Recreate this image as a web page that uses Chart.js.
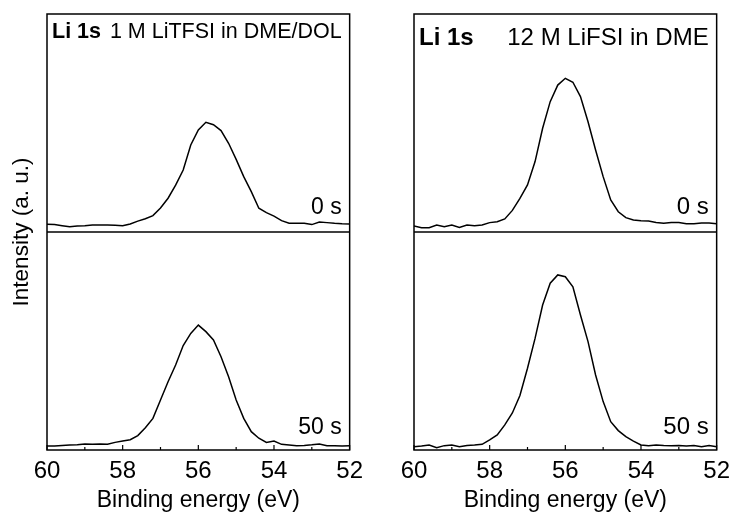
<!DOCTYPE html>
<html>
<head>
<meta charset="utf-8">
<script src="https://cdn.jsdelivr.net/npm/chart.js@4.4.0/dist/chart.umd.min.js"></script>
<style>
  html, body { margin: 0; padding: 0; background: #fff; }
  #wrap { position: relative; width: 737px; height: 517px; }
  #left { position: absolute; left: 0; top: 0; }
  #right { position: absolute; left: 370px; top: 0; }
</style>
</head>
<body>
<div id="wrap">
  <canvas id="left" width="370" height="517"></canvas>
  <canvas id="right" width="367" height="517"></canvas>
</div>
<script>
// binding energy (eV), read every 0.2 eV
var energies = [60.0, 59.8, 59.6, 59.4, 59.2, 59.0, 58.8, 58.6, 58.4, 58.2,
  58.0, 57.8, 57.6, 57.4, 57.2, 57.0, 56.8, 56.6, 56.4, 56.2,
  56.0, 55.8, 55.6, 55.4, 55.2, 55.0, 54.8, 54.6, 54.4, 54.2,
  54.0, 53.8, 53.6, 53.4, 53.2, 53.0, 52.8, 52.6, 52.4, 52.2, 52.0];

// 1 M LiTFSI in DME/DOL
var dol0s = [3.5, 3.4, 2.9, 2.4, 2.8, 2.9, 3.2, 3.2, 3.2, 3.1,
  2.9, 3.7, 5.0, 6.1, 7.5, 11.0, 15.5, 21.5, 28.4, 39.9,
  46.8, 50.3, 49.2, 46.5, 40.7, 33.3, 25.4, 18.5, 10.9, 8.9,
  7.3, 5.2, 4.0, 4.0, 4.0, 3.4, 4.6, 4.3, 4.0, 3.8, 3.7];
var dol50s = [1.8, 1.8, 2.1, 2.3, 2.4, 2.8, 2.6, 2.8, 2.6, 3.5,
  4.1, 4.7, 6.6, 10.2, 14.5, 22.9, 31.3, 39.0, 47.9, 53.5,
  57.3, 54.3, 50.5, 42.8, 33.6, 22.9, 14.5, 8.4, 5.4, 3.5,
  4.1, 2.6, 2.3, 2.0, 2.1, 2.4, 2.8, 2.0, 2.0, 1.8, 2.0];

// 12 M LiFSI in DME
var dme0s = [2.8, 2.0, 2.0, 3.2, 2.4, 3.2, 2.1, 3.2, 2.9, 3.2,
  4.3, 4.7, 6.0, 9.9, 15.4, 21.6, 32.3, 47.6, 59.8, 67.4,
  70.5, 68.7, 62.1, 50.6, 37.6, 25.4, 14.7, 9.3, 6.6, 5.5,
  5.2, 5.0, 4.4, 4.0, 4.4, 4.4, 3.8, 3.8, 4.1, 4.1, 3.8];
var dme50s = [1.5, 1.8, 2.3, 1.1, 2.0, 2.3, 1.5, 2.1, 2.3, 2.6,
  4.6, 6.9, 11.5, 17.0, 25.0, 37.5, 51.2, 66.5, 76.5, 80.3,
  79.5, 74.9, 61.9, 49.7, 34.4, 22.2, 13.0, 8.9, 6.1, 4.1,
  2.3, 2.0, 2.3, 2.1, 2.0, 2.1, 1.8, 2.1, 1.5, 2.1, 1.5];

var SPLIT = 100; // top spectrum sits on the upper half of the y range
var FONT = '"Liberation Sans", Arial, sans-serif';

Chart.defaults.font.family = FONT;
Chart.defaults.color = '#000';

function toPoints(vals, shift) {
  return energies.map(function (e, i) { return { x: e, y: vals[i] + shift }; });
}

// frame, split line, inward ticks and the labels inside the box
var framePlugin = {
  id: 'frame',
  afterDatasetsDraw: function (chart, args, opts) {
    var ctx = chart.ctx, a = chart.chartArea;
    var xs = chart.scales.x, ys = chart.scales.y;
    var mid = ys.getPixelForValue(SPLIT);
    ctx.save();
    ctx.strokeStyle = '#000';
    ctx.lineWidth = 1.5;
    ctx.strokeRect(a.left, a.top, a.right - a.left, a.bottom - a.top);
    ctx.beginPath();
    ctx.moveTo(a.left, mid);
    ctx.lineTo(a.right, mid);
    ctx.stroke();
    ctx.lineWidth = 1.2;
    xs.ticks.forEach(function (t) {
      var px = xs.getPixelForValue(t.value);
      var len = t.value % 2 === 0 ? 5 : 3;
      ctx.beginPath();
      ctx.moveTo(px, a.bottom);
      ctx.lineTo(px, a.bottom - len);
      ctx.stroke();
    });
    ctx.fillStyle = '#000';
    ctx.textBaseline = 'alphabetic';
    ctx.textAlign = 'left';
    ctx.font = 'bold ' + opts.titleSize + 'px ' + FONT;
    ctx.fillText('Li 1s', a.left + 5, a.top + opts.titleY);
    ctx.textAlign = 'right';
    ctx.font = opts.titleSize + 'px ' + FONT;
    ctx.fillText(opts.title, a.right - 8, a.top + opts.titleY);
    ctx.font = opts.labelSize + 'px ' + FONT;
    ctx.fillText(opts.upper, a.right - 8, mid - 18);
    ctx.fillText(opts.lower, a.right - 8, a.bottom - 16);
    ctx.restore();
  }
};

function makeChart(id, top, bottom, panel) {
  var ctx = document.getElementById(id).getContext('2d');
  return new Chart(ctx, {
    type: 'line',
    data: {
      datasets: [{
        label: '0 s',
        data: toPoints(top, SPLIT),
        borderColor: '#000',
        borderWidth: 1.5,
        pointRadius: 0,
        tension: 0
      },
      {
        label: '50 s',
        data: toPoints(bottom, 0),
        borderColor: '#000',
        borderWidth: 1.5,
        pointRadius: 0,
        tension: 0
      }]
    },
    options: {
      responsive: false,
      animation: false,
      layout: { padding: { left: 0, right: panel.padRight, top: 14, bottom: 0 } },
      plugins: {
        legend: { display: false },
        tooltip: { enabled: false },
        frame: {
          title: panel.title,
          titleSize: panel.titleSize,
          titleY: panel.titleY,
          labelSize: panel.labelSize,
          upper: '0 s',
          lower: '50 s'
        }
      },
      scales: {
        x: {
          type: 'linear',
          min: 52,
          max: 60,
          reverse: true,
          grid: { display: false, drawTicks: false },
          border: { display: false },
          ticks: {
            stepSize: 1,
            autoSkip: false,
            maxRotation: 0,
            padding: 7,
            font: { size: 24 },
            callback: function (v) { return v % 2 === 0 ? v : ''; }
          },
          title: {
            display: true,
            text: 'Binding energy (eV)',
            font: { size: 23 },
            padding: { top: 0, bottom: 3 }
          },
          afterFit: function (s) { s.height = 67; }
        },
        y: {
          min: 0,
          max: 2 * SPLIT,
          grid: { display: false, drawTicks: false },
          border: { display: false },
          ticks: { display: false },
          title: {
            display: panel.yTitle,
            text: 'Intensity (a. u.)',
            font: { size: 22.5 },
            padding: { top: 8, bottom: 0 }
          },
          afterFit: function (s) { s.width = panel.yWidth; }
        }
      }
    },
    plugins: [framePlugin]
  });
}

makeChart('left', dol0s, dol50s, {
  title: '1 M LiTFSI in DME/DOL', titleSize: 21.5, titleY: 24, labelSize: 23,
  yTitle: true, yWidth: 47, padRight: 20
});
makeChart('right', dme0s, dme50s, {
  title: '12 M LiFSI in DME', titleSize: 24, titleY: 31, labelSize: 24,
  yTitle: false, yWidth: 44, padRight: 19
});
</script>
</body>
</html>
